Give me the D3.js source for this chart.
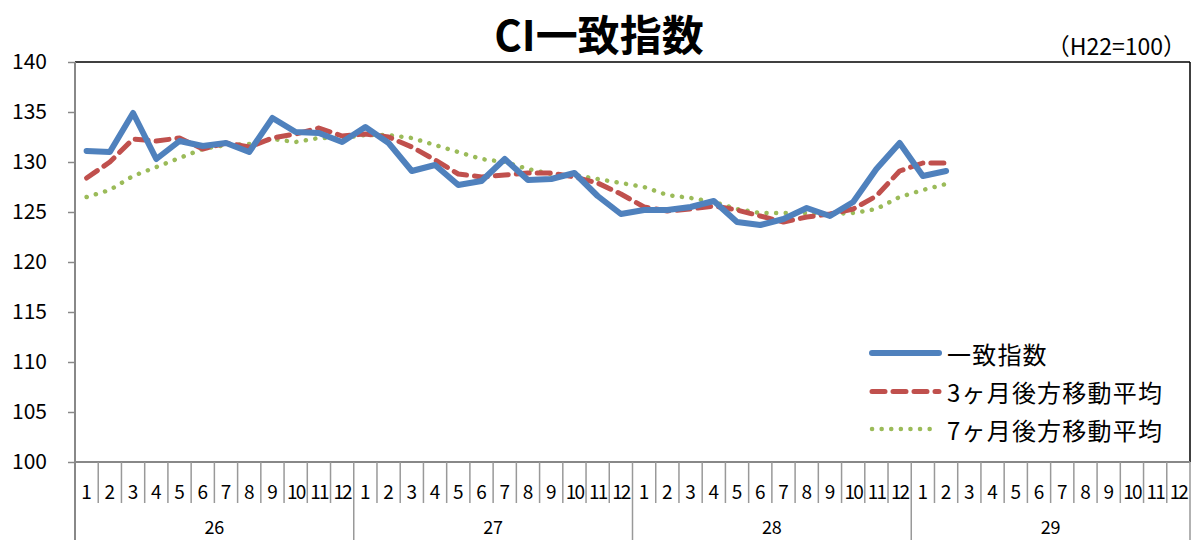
<!DOCTYPE html>
<html><head><meta charset="utf-8">
<script src="https://cdn.jsdelivr.net/npm/d3@7"></script>
<style>
body{margin:0;background:#fff;}
text{font-family:"Noto Sans CJK JP","Noto Sans",sans-serif;fill:#000;}
</style></head>
<body><svg id="c" width="1191" height="540"></svg>
<script>
const years = ["26","27","28","29"];
const months = ["1","2","3","4","5","6","7","8","9","10","11","12"];
const ciIndex = [131.1,131.0,134.9,130.3,132.1,131.6,131.9,131.0,134.4,133.0,132.9,132.0,
  133.5,131.9,129.1,129.7,127.7,128.1,130.3,128.2,128.3,128.9,126.6,124.8,
  125.2,125.2,125.5,126.1,124.0,123.7,124.3,125.4,124.6,126.0,129.3,131.9,
  128.6,129.1];
const ma3 = [128.4,130.0,132.3,132.1,132.4,131.3,131.9,131.5,132.4,132.8,133.4,132.6,
  132.8,132.5,131.5,130.2,128.8,128.5,128.7,128.9,128.9,128.5,127.9,126.8,
  125.5,125.1,125.3,125.6,125.2,124.6,124.0,124.5,124.8,125.3,126.6,129.1,
  129.9,129.9];
const ma7 = [126.5,127.2,128.6,129.5,130.4,131.3,131.7,131.8,132.3,132.0,132.4,132.4,
  132.7,132.7,132.4,131.7,131.0,130.3,130.0,129.3,128.8,128.7,128.3,127.9,
  127.5,126.7,126.4,126.0,125.3,124.9,124.9,124.9,124.8,124.9,125.3,126.5,
  127.2,127.8];
const yTicks = [100,105,110,115,120,125,130,135,140];
const seriesNames = ["一致指数","3ヶ月後方移動平均","7ヶ月後方移動平均"];
const titleText = "CI一致指数";
const unitText = "（H22=100）";

const svg = d3.select("#c");
const L = 75, R = 1190, T = 62, B = 462;
const cats = [];
years.forEach(y => months.forEach(m => cats.push(y + "-" + m)));
const x = d3.scaleBand().domain(cats).range([L, R]);
const y = d3.scaleLinear().domain([100, 140]).range([B, T]);
const cx = i => x(cats[i]) + x.bandwidth() / 2;

// frame top/right
svg.append("line").attr("x1", L).attr("x2", R).attr("y1", T).attr("y2", T).attr("stroke", "#000").attr("stroke-width", 1.5);
svg.append("line").attr("x1", R).attr("x2", R).attr("y1", T).attr("y2", B).attr("stroke", "#000").attr("stroke-width", 1.5);

// y axis
const ya = svg.append("g").attr("transform", `translate(${L},0)`)
  .call(d3.axisLeft(y).tickValues(yTicks).tickSize(7).tickPadding(21).tickFormat(d3.format("d")));
ya.select(".domain").attr("stroke", "#888").attr("stroke-width", 2).attr("d", `M0,${T}V${B}`);
ya.selectAll(".tick line").attr("stroke", "#888").attr("stroke-width", 1.5);
ya.selectAll(".tick text").attr("font-size", 21).attr("font-family", "'Noto Sans CJK JP',sans-serif");

// x axis
svg.append("line").attr("x1", L).attr("x2", R).attr("y1", B).attr("y2", B).attr("stroke", "#888").attr("stroke-width", 2);
svg.append("line").attr("x1", L).attr("x2", L).attr("y1", B).attr("y2", 540).attr("stroke", "#888").attr("stroke-width", 2);
cats.forEach((c, i) => {
  const xr = x(c) + x.bandwidth();
  const isYear = (i % 12) === 11;
  svg.append("line").attr("x1", xr).attr("x2", xr).attr("y1", B).attr("y2", isYear ? 540 : 503)
    .attr("stroke", "#999").attr("stroke-width", 1.5);
  const lab = months[i % 12];
  svg.append("text").attr("x", cx(i)).attr("y", 490).attr("text-anchor", "middle")
    .attr("dominant-baseline", "central").attr("font-size", 19)
    .attr("letter-spacing", lab.length > 1 ? -1.8 : 0)
    .text(lab);
});
years.forEach((yr, k) => {
  const x0 = x(cats[k * 12]), x1 = x(cats[k * 12 + 11]) + x.bandwidth();
  svg.append("text").attr("x", (x0 + x1) / 2).attr("y", 526).attr("text-anchor", "middle")
    .attr("dominant-baseline", "central").attr("font-size", 18).text(yr);
});

// series
const line = d3.line().x((d, i) => cx(i)).y(d => y(d));
const styles = [
  {data: ma7, color: "#9BBB59", width: 4.5, dash: "0.1 9.5", cap: "round"},
  {data: ma3, color: "#C0504D", width: 5, dash: "13 8", cap: "round"},
  {data: ciIndex, color: "#4F81BD", width: 6, dash: null, cap: "round"}
];
styles.forEach(s => {
  svg.append("path").datum(s.data).attr("d", line).attr("fill", "none")
    .attr("stroke", s.color).attr("stroke-width", s.width).attr("stroke-linecap", s.cap)
    .attr("stroke-linejoin", "round").attr("stroke-dasharray", s.dash);
});

// legend
const legStyles = [styles[2], styles[1], styles[0]];
const legY = [353, 391.5, 429];
seriesNames.forEach((n, k) => {
  const s = legStyles[k];
  svg.append("line").attr("x1", 872).attr("x2", 939).attr("y1", legY[k]).attr("y2", legY[k])
    .attr("stroke", s.color).attr("stroke-width", s.width).attr("stroke-linecap", "round")
    .attr("stroke-dasharray", s.dash);
  svg.append("text").attr("x", 947).attr("y", legY[k]).attr("dominant-baseline", "central")
    .attr("font-size", 24).attr("letter-spacing", 1.2).text(n);
});

// titles
svg.append("text").attr("x", 599).attr("y", 32).attr("text-anchor", "middle")
  .attr("dominant-baseline", "central").attr("font-size", 42).attr("font-weight", "bold").text(titleText);
svg.append("text").attr("x", 1186).attr("y", 45).attr("text-anchor", "end")
  .attr("dominant-baseline", "central").attr("font-size", 23).text(unitText);
</script></body></html>
